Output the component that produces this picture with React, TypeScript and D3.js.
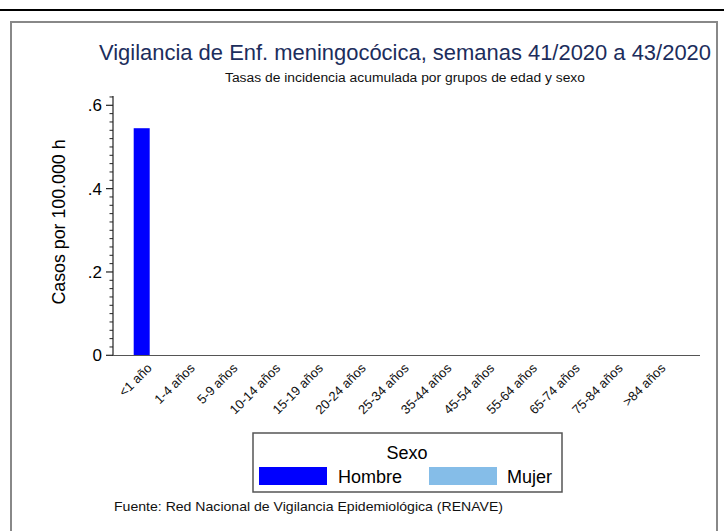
import React from "react";
import * as d3 from "d3";

const categories = ["<1 año", "1-4 años", "5-9 años", "10-14 años", "15-19 años", "20-24 años", "25-34 años", "35-44 años", "45-54 años", "55-64 años", "65-74 años", "75-84 años", ">84 años"];
const hombre = [0.545, 0, 0, 0, 0, 0, 0, 0, 0, 0, 0, 0, 0];
const mujer = [0, 0, 0, 0, 0, 0, 0, 0, 0, 0, 0, 0, 0];
const series = ["Hombre", "Mujer"];
const seriesColors = ["#0000ff", "#85bde8"];
const yTicks = [0, 0.2, 0.4, 0.6];
const yTickLabels = ["0", ".2", ".4", ".6"];

const W = 724;
const H = 531;
const FONT = "'Liberation Sans', Arial, sans-serif";

export default function App() {
  const x = d3.scaleBand<string>().domain(categories).range([113, 700]).paddingInner(0.252).paddingOuter(0.4835);
  const xs = d3.scaleBand<string>().domain(series).range([0, x.bandwidth()]).padding(0);
  const y = d3.scaleLinear().domain([0, 0.6]).range([355.3, 105.3]);
  const yTop = 0.62;
  const minor = d3.range(0, 0.6201, 0.02).filter((v) => !yTicks.some((t) => Math.abs(t - v) < 1e-6));
  const data = [hombre, mujer];

  return (
    <svg width={W} height={H} style={{ position: "absolute", left: 0, top: 0, background: "#fff" }} fontFamily={FONT}>
      <rect x={0} y={0} width={W} height={H} fill="#fff" />
      <rect x={0} y={9} width={W} height={2} fill="#000" />
      <rect x={11} y={22} width={706} height={600} fill="none" stroke="#888" strokeWidth={2} />

      <text x={405} y={60} textAnchor="middle" fontSize={21.5} fill="#1c2d5c" textLength={612} lengthAdjust="spacingAndGlyphs">
        Vigilancia de Enf. meningocócica, semanas 41/2020 a 43/2020
      </text>
      <text x={405} y={82} textAnchor="middle" fontSize={12.5} fill="#111" textLength={360} lengthAdjust="spacingAndGlyphs">
        Tasas de incidencia acumulada por grupos de edad y sexo
      </text>

      {/* bars */}
      {categories.map((c, i) =>
        series.map((s, j) => {
          const v = data[j][i];
          const y0 = y(0);
          const y1 = y(v);
          return (
            <rect key={c + s} x={(x(c) ?? 0) + (xs(s) ?? 0)} y={y1} width={xs.bandwidth()} height={Math.max(0, y0 - y1)} fill={seriesColors[j]} />
          );
        })
      )}

      {/* y axis */}
      <line x1={113} x2={113} y1={y(yTop) - 1} y2={y(0) + 0.5} stroke="#222" strokeWidth={1.2} />
      {minor.map((v) => (
        <line key={"m" + v} x1={109.5} x2={113} y1={y(v)} y2={y(v)} stroke="#222" strokeWidth={1} />
      ))}
      {yTicks.map((t, i) => (
        <g key={"t" + t}>
          <line x1={106} x2={113} y1={y(t)} y2={y(t)} stroke="#222" strokeWidth={1.2} />
          <text x={102} y={y(t) + 6} textAnchor="end" fontSize={17} fill="#000">
            {yTickLabels[i]}
          </text>
        </g>
      ))}
      <text transform={`translate(65,222) rotate(-90)`} textAnchor="middle" fontSize={17.8} fill="#000">
        Casos por 100.000 h
      </text>

      {/* x axis */}
      <line x1={113} x2={700} y1={355.5} y2={355.5} stroke="#555" strokeWidth={1.2} />
      {categories.map((c) => {
        const cx = (x(c) ?? 0) + x.bandwidth() / 2 + 3;
        return (
          <text key={"l" + c} transform={`translate(${cx},369) rotate(-45)`} textAnchor="end" fontSize={13} fill="#111">
            {c}
          </text>
        );
      })}

      {/* legend */}
      <rect x={253} y={433} width={309} height={59} fill="#fff" stroke="#555" strokeWidth={1.5} />
      <text x={407} y={459} textAnchor="middle" fontSize={18} fill="#000">
        Sexo
      </text>
      {series.map((s, j) => (
        <g key={"lg" + s}>
          <rect x={259 + j * 170} y={467} width={68} height={18} fill={seriesColors[j]} />
          <text x={338 + j * 169} y={483} fontSize={18} fill="#000">
            {s}
          </text>
        </g>
      ))}

      <text x={114} y={511} fontSize={13} fill="#111" textLength={389} lengthAdjust="spacingAndGlyphs">
        Fuente: Red Nacional de Vigilancia Epidemiológica (RENAVE)
      </text>
    </svg>
  );
}
